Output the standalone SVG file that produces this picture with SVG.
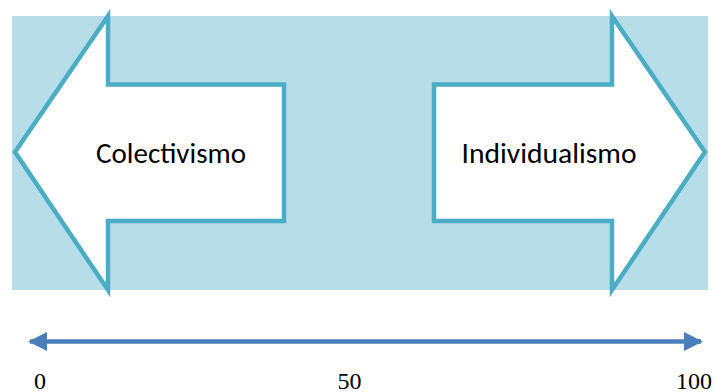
<svg xmlns="http://www.w3.org/2000/svg" width="714" height="392" viewBox="0 0 714 392">
  <style>
    .band { fill: #b7dde8; }
    .block { fill: #ffffff; stroke: #4bacc6; stroke-width: 4.5; stroke-linejoin: miter; }
    .label { font-family: Carlito, "Open Sans", "Liberation Sans", sans-serif; font-size: 29px; fill: #000000; text-anchor: middle; }
    .scale { stroke: #4a7ebb; stroke-width: 4.5; fill: none; }
    .tick { font-family: "Liberation Serif", "Times New Roman", serif; font-size: 24px; fill: #000000; text-anchor: middle; }
  </style>
  <defs>
    <marker id="head" viewBox="0 0 10 10" refX="9" refY="5" markerWidth="4.2" markerHeight="4.2" orient="auto-start-reverse" markerUnits="strokeWidth">
      <path d="M0,0 L10,5 L0,10 Z" fill="#4a7ebb"/>
    </marker>
  </defs>

  <!-- background band -->
  <rect class="band" x="12" y="16" width="696" height="274"/>

  <!-- left block arrow -->
  <g id="colectivismo">
    <polygon class="block" points="15,152 108,16 108,84.5 284,84.5 284,221 108,221 108,290"/>
    <text class="label" x="171" y="162.5" textLength="150" lengthAdjust="spacingAndGlyphs">Colectivismo</text>
  </g>

  <!-- right block arrow -->
  <g id="individualismo">
    <polygon class="block" points="434,84.5 612,84.5 612,16 705,152 612,290 612,221 434,221"/>
    <text class="label" x="549" y="162.5" textLength="175" lengthAdjust="spacingAndGlyphs">Individualismo</text>
  </g>

  <!-- scale line with arrowheads at both ends -->
  <g id="connectors">
    <line class="scale" x1="30" y1="341.5" x2="701" y2="341.5" marker-start="url(#head)" marker-end="url(#head)"/>
  </g>

  <!-- scale values -->
  <g id="scale-labels">
    <text class="tick" x="40" y="389">0</text>
    <text class="tick" x="349.5" y="389">50</text>
    <text class="tick" x="694" y="389">100</text>
  </g>
</svg>
